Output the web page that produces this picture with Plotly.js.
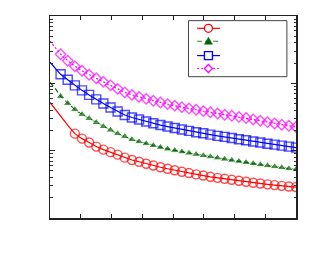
<!DOCTYPE html>
<html>
<head>
<meta charset="utf-8">
<script src="https://cdn.plot.ly/plotly-3.0.1.min.js"></script>
<style>html,body{margin:0;padding:0;background:#fff;}#chart{width:313px;height:263px;}</style>
</head>
<body>
<div id="chart"></div>
<script>
// Marker x positions shared by the series (axis units 0..8)
const xMarkers = [0.344, 0.576, 0.808, 1.040, 1.272, 1.504, 1.736, 1.968, 2.200, 2.432,
  2.664, 2.896, 3.128, 3.360, 3.592, 3.824, 4.056, 4.288, 4.520, 4.752,
  4.984, 5.216, 5.448, 5.680, 5.912, 6.144, 6.376, 6.608, 6.840, 7.072,
  7.304, 7.536, 7.768, 8.000];

// Red (circles, solid)
const redX = [0, 0.2, 0.4, 0.6].concat(xMarkers.slice(2));
const redY = [52.0, 39.5, 31.1, 23.2,
  17.9, 15.1, 13.2, 11.5, 10.35, 9.50, 8.72, 7.87, 7.26, 6.85,
  6.40, 6.01, 5.67, 5.39, 5.12, 4.86, 4.65, 4.44, 4.27, 4.09,
  3.95, 3.82, 3.69, 3.57, 3.45, 3.34, 3.25, 3.16, 3.08, 3.00,
  2.94, 2.88];
const redPre = 4;

// Green (triangles, dashed)
const greenX = [0, 0.17].concat(xMarkers);
const greenY = [103.5, 84.2,
  64.0, 50.3, 40.9, 34.5, 30.0, 26.2, 22.8, 20.2, 17.9, 16.2,
  14.6, 13.6, 12.7, 11.9, 11.2, 10.6, 10.1, 9.63, 9.21, 8.81,
  8.45, 8.13, 7.81, 7.49, 7.21, 6.95, 6.69, 6.44, 6.20, 5.99,
  5.79, 5.60, 5.41, 5.24];
const greenPre = 2;

// Blue (squares, solid)
const blueX = [0, 0.17].concat(xMarkers);
const blueY = [205.8, 167.5,
  136.3, 112.8, 93.4, 78.6, 67.3, 57.7, 50.3, 43.8, 38.2, 33.9,
  31.1, 29.0, 27.1, 25.5, 24.0, 22.8, 21.7, 20.6, 19.7, 18.8,
  18.1, 17.3, 16.6, 16.0, 15.4, 14.8, 14.3, 13.7, 13.2, 12.7,
  12.3, 11.9, 11.5, 11.1];
const bluePre = 2;

// Magenta (diamonds, dotted)
const magX = [0, 0.17].concat(xMarkers);
const magY = [423.6, 344.6,
  270.9, 216.7, 179.4, 153.7, 133.9, 118.8, 105.2, 93.4, 82.8, 73.4,
  67.3, 62.9, 58.7, 55.2, 52.0, 49.1, 46.6, 44.3, 42.4, 40.5,
  38.7, 37.2, 35.7, 34.2, 33.0, 31.7, 30.5, 29.0, 27.8, 26.5,
  25.3, 24.3, 23.4, 22.5];
const magPre = 2;

const seriesNames = ['', '', '', ''];

function sizes(xs, pre, s) { return xs.map((_, i) => i < pre ? 0 : s); }

const traces = [
  {x: redX, y: redY, name: seriesNames[0], mode: 'lines+markers', showlegend: false,
   line: {color: '#ff0000', width: 1.2},
   marker: {symbol: 'circle-open', color: '#ff0000', size: sizes(redX, redPre, 9), line: {width: 1.4, color: '#ff0000'}}},
  {x: greenX, y: greenY, name: seriesNames[1], mode: 'lines+markers', showlegend: false,
   line: {color: '#006400', width: 1.2, dash: '5px,3px'},
   marker: {symbol: 'triangle-up', color: '#006400', size: sizes(greenX, greenPre, 8)}},
  {x: blueX, y: blueY, name: seriesNames[2], mode: 'lines+markers', showlegend: false,
   line: {color: '#0000ff', width: 1.2},
   marker: {symbol: 'square-open', color: '#0000ff', size: sizes(blueX, bluePre, 9), line: {width: 1.4, color: '#0000ff'}}},
  {x: magX, y: magY, name: seriesNames[3], mode: 'lines+markers', showlegend: false,
   line: {color: '#ff00ff', width: 1.2, dash: '2px,2px'},
   marker: {symbol: 'diamond-open', color: '#ff00ff', size: sizes(magX, magPre, 8), line: {width: 1.4, color: '#ff00ff'}}}
];

// Legend drawn as shapes (box + samples)
const lx0 = 0.563, lx1 = 0.963, ly0 = 0.6995, ly1 = 0.977;
const rowY = [0.939, 0.875, 0.804, 0.740];
const sx0 = 0.598, sx1 = 0.691, sxm = 0.644;
const shapes = [
  {type: 'rect', xref: 'paper', yref: 'paper', x0: lx0, x1: lx1, y0: ly0, y1: ly1,
   line: {color: '#444', width: 1}, fillcolor: 'rgba(255,255,255,1)', layer: 'above'},
  {type: 'line', xref: 'paper', yref: 'paper', x0: sx0, x1: sx1, y0: rowY[0], y1: rowY[0], line: {color: '#ff0000', width: 1.2}},
  {type: 'line', xref: 'paper', yref: 'paper', x0: sx0, x1: sx1, y0: rowY[1], y1: rowY[1], line: {color: '#2e8b2e', width: 1.2, dash: '5px,3px'}},
  {type: 'line', xref: 'paper', yref: 'paper', x0: sx0, x1: sx1, y0: rowY[2], y1: rowY[2], line: {color: '#0000ff', width: 1.2}},
  {type: 'line', xref: 'paper', yref: 'paper', x0: sx0, x1: sx1, y0: rowY[3], y1: rowY[3], line: {color: '#ff00ff', width: 1.2, dash: '2px,2px'}},
  {type: 'circle', xref: 'paper', yref: 'paper', xsizemode: 'pixel', ysizemode: 'pixel',
   xanchor: sxm, yanchor: rowY[0], x0: -4, x1: 4, y0: -4, y1: 4,
   line: {color: '#ff0000', width: 1.3}, fillcolor: 'white'},
  {type: 'path', xref: 'paper', yref: 'paper', xsizemode: 'pixel', ysizemode: 'pixel',
   xanchor: sxm, yanchor: rowY[1], path: 'M-4,-3 L4,-3 L0,4 Z',
   line: {color: '#006400', width: 0.5}, fillcolor: '#006400'},
  {type: 'rect', xref: 'paper', yref: 'paper', xsizemode: 'pixel', ysizemode: 'pixel',
   xanchor: sxm, yanchor: rowY[2], x0: -4, x1: 4, y0: -4, y1: 4,
   line: {color: '#0000ff', width: 1.3}, fillcolor: 'white'},
  {type: 'path', xref: 'paper', yref: 'paper', xsizemode: 'pixel', ysizemode: 'pixel',
   xanchor: sxm, yanchor: rowY[3], path: 'M0,-4 L4,0 L0,4 L-4,0 Z',
   line: {color: '#ff00ff', width: 1.3}, fillcolor: 'white'}
];

const layout = {
  width: 313, height: 263,
  margin: {l: 50, r: 17, t: 16, b: 45},
  paper_bgcolor: '#ffffff', plot_bgcolor: '#ffffff',
  showlegend: false,
  xaxis: {range: [0, 8], dtick: 1, tick0: 0, showgrid: false, zeroline: false,
    showline: true, linecolor: '#222', linewidth: 1.5, mirror: 'ticks',
    ticks: 'inside', ticklen: 4, tickwidth: 1, tickcolor: '#222', showticklabels: false},
  yaxis: {type: 'log', range: [0, 3], dtick: 1, showgrid: false, zeroline: false,
    showline: true, linecolor: '#222', linewidth: 1.5, mirror: 'ticks',
    ticks: 'inside', ticklen: 5, tickwidth: 1, tickcolor: '#222', showticklabels: false,
    minor: {ticks: 'inside', ticklen: 2.5, tickwidth: 1, tickcolor: '#333', showgrid: false}},
  shapes: shapes
};

Plotly.newPlot('chart', traces, layout, {displayModeBar: false, staticPlot: true});
</script>
</body>
</html>
